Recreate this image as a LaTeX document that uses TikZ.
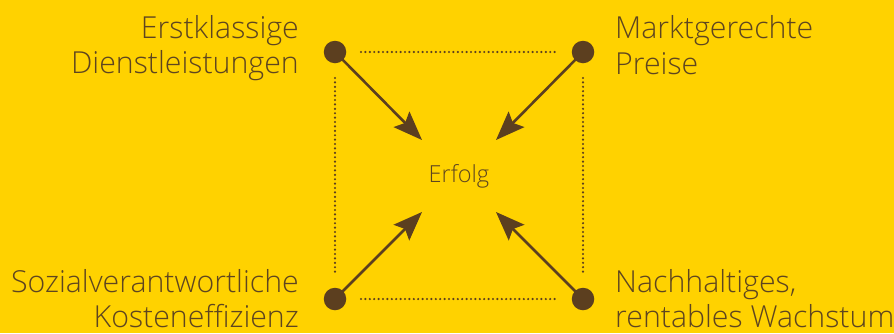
\documentclass[tikz,border=0pt]{standalone}
\usepackage{fontspec}
\setmainfont{Open Sans Light}
\usetikzlibrary{arrows.meta}
\definecolor{bgyellow}{HTML}{FFD200}
\definecolor{darkbrown}{HTML}{5C3F1F}
\definecolor{textbrown}{HTML}{5E4520}
\tikzset{
  dotnode/.style={circle,fill=darkbrown,draw=none,minimum size=22.5pt,inner sep=0pt},
  arr/.style={draw=darkbrown,line width=2.6pt,-{Stealth[length=29pt,width=22pt,inset=5pt]}},
  dotline/.style={draw=darkbrown,line width=2.4pt,line cap=round,dash pattern=on 0pt off 4.4pt},
  lbl/.style={inner sep=0pt,text=textbrown,font=\fontsize{30.3}{35}\selectfont},
  centerlbl/.style={inner sep=0pt,text=textbrown,font=\fontsize{23.5}{28}\selectfont}
}
\begin{document}
\begin{tikzpicture}[x=1pt,y=-1pt]
\fill[bgyellow] (0,0) rectangle (894,333);
\useasboundingbox (0,0) rectangle (894,333);
\node[dotnode] (tl) at (335,52) {};
\node[dotnode] (tr) at (583,52) {};
\node[dotnode] (bl) at (335,299) {};
\node[dotnode] (br) at (583,299) {};
\node[centerlbl] (c) at (459,176) {Erfolg};
\coordinate (ctl) at (422,140);
\coordinate (ctr) at (496,140);
\coordinate (cbl) at (422,212);
\coordinate (cbr) at (496,212);
\draw[arr] (tl.center) -- (ctl);
\draw[arr] (tr.center) -- (ctr);
\draw[arr] (bl.center) -- (cbl);
\draw[arr] (br.center) -- (cbr);
\draw[dotline] ([xshift=26pt]tl.center) -- ([xshift=-26pt]tr.center);
\draw[dotline] ([xshift=26pt]bl.center) -- ([xshift=-26pt]br.center);
\draw[dotline] ([yshift=-26pt]tl.center) -- ([yshift=26pt]bl.center);
\draw[dotline] ([yshift=-26pt]tr.center) -- ([yshift=26pt]br.center);
\node[lbl,anchor=base east] (tla) at (299,38) {Erstklassige};
\node[lbl,anchor=base east] (tlb) at (299,73) {Dienstleistungen};
\node[lbl,anchor=base west] (tra) at (615,38) {Marktgerechte};
\node[lbl,anchor=base west] (trb) at (615,74) {Preise};
\node[lbl,anchor=base east] (bla) at (299,292) {Sozialverantwortliche};
\node[lbl,anchor=base east] (blb) at (299,327) {Kosteneffizienz};
\node[lbl,anchor=base west] (bra) at (615,292) {Nachhaltiges,};
\node[lbl,anchor=base west] (brb) at (615,327) {rentables Wachstum};
\end{tikzpicture}
\end{document}
